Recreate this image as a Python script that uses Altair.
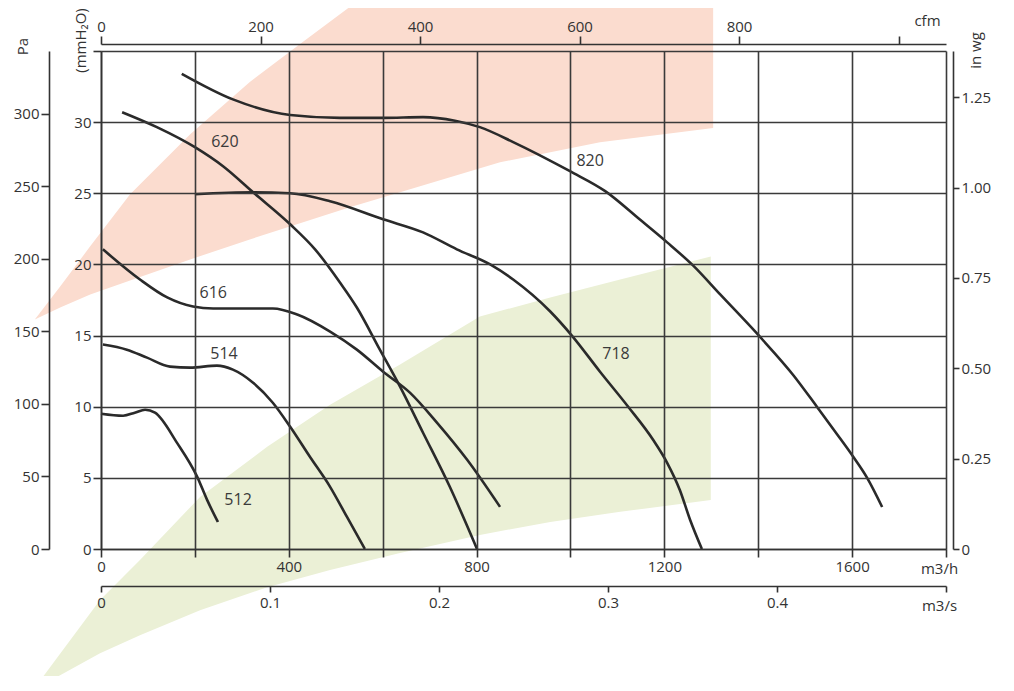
import altair as alt
import pandas as pd

FONT = "Open Sans"
INK = "#333333"

# ---- fan curves: flow in m3/h, pressure in mmH2O ----
q820 = [172, 281, 403, 509, 601, 686, 754, 807, 878, 999, 1074, 1148, 1206, 1261, 1319, 1404, 1474, 1525, 1564, 1602, 1632, 1664]
p820 = [33.4, 31.6, 30.5, 30.3, 30.3, 30.35, 30.1, 29.65, 28.6, 26.55, 25.15, 23.15, 21.55, 19.93, 17.89, 14.9, 12.25, 10.0, 8.24, 6.5, 5.0, 2.95]
q620 = [45, 119, 200, 260, 324, 403, 456, 509, 545, 594, 637, 686, 743, 801]
p620 = [30.7, 29.65, 28.24, 26.9, 25.07, 22.82, 21.06, 18.73, 16.97, 14.01, 11.41, 8.17, 4.37, 0.0]
q718 = [200, 324, 403, 488, 601, 686, 758, 829, 878, 957, 1003, 1063, 1123, 1176, 1206, 1233, 1255, 1280]
p718 = [24.93, 25.07, 25.0, 24.44, 23.17, 22.25, 21.06, 20.0, 18.94, 16.69, 15.0, 12.46, 10.0, 7.68, 6.06, 4.15, 2.04, 0.0]
q616 = [4, 83, 141, 196, 239, 366, 418, 488, 545, 601, 658, 716, 780, 850]
p616 = [21.06, 18.94, 17.68, 17.04, 16.9, 16.9, 16.48, 15.28, 14.01, 12.46, 10.99, 8.87, 6.27, 2.96]
q514 = [4, 55, 98, 147, 190, 247, 281, 324, 366, 403, 445, 488, 524, 562]
p514 = [14.37, 14.01, 13.45, 12.82, 12.75, 12.89, 12.61, 11.69, 10.28, 8.59, 6.48, 4.37, 2.25, 0.0]
q512 = [0, 47, 72, 94, 115, 162, 205, 226, 249]
p512 = [9.51, 9.37, 9.58, 9.79, 9.58, 7.46, 5.07, 3.45, 1.9]

# curve label positions
lab_text = ["620", "820", "616", "514", "718", "512"]
lab_q = [264, 1042, 239, 262, 1097, 292]
lab_p = [28.6, 27.25, 17.96, 13.73, 13.73, 3.45]

# ---- shaded operating zones (m3/h, mmH2O) ----
pink_q = [-141, -87, -23, 62, 190, 317, 424, 530, 637, 850, 1063, 1304]
pink_lo = [16.13, 16.97, 17.89, 18.87, 20.35, 21.76, 22.89, 24.01, 25.07, 27.18, 28.59, 29.58]
pink_hi = [16.13, 18.45, 21.27, 24.93, 29.15, 32.82, 35.49, 38.1, 40.63, 44.3, 44.3, 44.3]
green_q = [-145, -2, 83, 211, 354, 488, 637, 807, 957, 1106, 1299]
green_lo = [-9.93, -7.32, -6.06, -4.30, -2.68, -1.48, -0.28, 0.99, 1.90, 2.61, 3.45]
green_hi = [-9.93, -3.59, -0.77, 3.66, 7.18, 10.14, 12.96, 16.34, 17.68, 18.94, 20.56]

# ---- axis ticks ----
mh_ticks = list(range(0, 1801, 200))
mm_ticks = list(range(0, 36, 5))
pa_ticks = [0, 50, 100, 150, 200, 250, 300]
inwg_ticks = [0, 0.25, 0.5, 0.75, 1.0, 1.25]
cfm_ticks = [0, 200, 400, 600, 800, 1000]
m3s_ticks = [0, 0.1, 0.2, 0.3, 0.4, 0.5]

Q_MAX = 1800.0
P_MAX = 35.0

rows = []
for name, qs, ps in [("820", q820, p820), ("620", q620, p620), ("718", q718, p718),
                     ("616", q616, p616), ("514", q514, p514), ("512", q512, p512)]:
    for q, p in zip(qs, ps):
        rows.append({"fan": name, "q": q, "p": p})
curves = pd.DataFrame(rows)
labels = pd.DataFrame({"t": lab_text, "q": lab_q, "p": lab_p})
pink = pd.DataFrame({"q": pink_q, "lo": pink_lo, "hi": pink_hi})
green = pd.DataFrame({"q": green_q, "lo": green_lo, "hi": green_hi})


def xs():
    return alt.Scale(domain=[0, Q_MAX], nice=False, zero=False)


def ys():
    return alt.Scale(domain=[0, P_MAX], nice=False, zero=False)


common = dict(domainColor=INK, domainWidth=1.6, tickColor=INK, tickWidth=1.6,
              labelFont=FONT, labelFontSize=15, labelColor=INK, labelFlush=False,
              labelOverlap=False, titleFont=FONT, titleFontSize=15, titleColor=INK,
              titleFontWeight="normal", titleAlign="center", titleBaseline="middle",
              zindex=1)

x_axis = alt.Axis(orient="bottom", values=mh_ticks, tickSize=8, labelPadding=2,
                  labelExpr="datum.value % 400 == 0 && datum.value < 1800 ? '' + datum.value : ''",
                  grid=True, gridColor="#3a3a3a", gridWidth=1.6,
                  title="m3/h", titleX=838, titleY=19, titleAngle=0, **common)
y_axis = alt.Axis(orient="left", values=mm_ticks, tickSize=8, labelPadding=2,
                  labelExpr="datum.value < 35 ? '' + datum.value : ''",
                  grid=True, gridColor="#3a3a3a", gridWidth=1.6,
                  title="(mmH\u2082O)", titleX=-21, titleY=-11, titleAngle=270, **common)

pink_layer = alt.Chart(pink).mark_area(color="#fbdccf", opacity=1).encode(
    x=alt.X("q:Q", scale=xs(), axis=x_axis),
    y=alt.Y("lo:Q", scale=ys(), axis=y_axis),
    y2="hi:Q",
)
green_layer = alt.Chart(green).mark_area(color="#ebf0d6", opacity=1).encode(
    x=alt.X("q:Q", scale=xs(), axis=None),
    y=alt.Y("lo:Q", scale=ys(), axis=None),
    y2="hi:Q",
)
line_layer = alt.Chart(curves).mark_line(interpolate="monotone", strokeWidth=2.6,
                                         color="#2a2a2a").encode(
    x=alt.X("q:Q", scale=xs(), axis=None),
    y=alt.Y("p:Q", scale=ys(), axis=None),
    detail="fan:N",
)
label_layer = alt.Chart(labels).mark_text(font=FONT, fontSize=16, color="#3a3a3a").encode(
    x=alt.X("q:Q", scale=xs(), axis=None),
    y=alt.Y("p:Q", scale=ys(), axis=None),
    text="t:N",
)

pa_layer = alt.Chart(pd.DataFrame({"v": pa_ticks})).mark_point(opacity=0).encode(
    y=alt.Y("v:Q", scale=alt.Scale(domain=[0, P_MAX * 9.80665], nice=False),
            axis=alt.Axis(orient="left", offset=52, values=pa_ticks, tickSize=8,
                          labelPadding=2, grid=False, title="Pa", titleX=-27, titleY=-5,
                          titleAngle=270, **common)))
inwg_layer = alt.Chart(pd.DataFrame({"v": inwg_ticks})).mark_point(opacity=0).encode(
    y=alt.Y("v:Q", scale=alt.Scale(domain=[0, P_MAX / 25.4], nice=False),
            axis=alt.Axis(orient="right", offset=7, values=inwg_ticks, tickSize=6,
                          labelPadding=2, grid=False,
                          labelExpr="datum.value == 0 ? '0' : format(datum.value, '.2f')",
                          title="in wg", titleX=22, titleY=-1, titleAngle=270, **common)))
cfm_layer = alt.Chart(pd.DataFrame({"v": cfm_ticks})).mark_point(opacity=0).encode(
    x=alt.X("v:Q", scale=alt.Scale(domain=[0, Q_MAX / 1.699011], nice=False),
            axis=alt.Axis(orient="top", offset=7, values=cfm_ticks, tickSize=8,
                          labelPadding=2, grid=False,
                          labelExpr="datum.value < 1000 ? '' + datum.value : ''",
                          title="cfm", titleX=826, titleY=-24, titleAngle=0, **common)))
m3s_layer = alt.Chart(pd.DataFrame({"v": m3s_ticks})).mark_point(opacity=0).encode(
    x=alt.X("v:Q", scale=alt.Scale(domain=[0, Q_MAX / 3600], nice=False),
            axis=alt.Axis(orient="bottom", offset=37, values=m3s_ticks, tickSize=6,
                          labelPadding=3, grid=False,
                          labelExpr="datum.value == 0 ? '0' : (datum.value < 0.45 ? format(datum.value, '.1f') : '')",
                          title="m3/s", titleX=838, titleY=19, titleAngle=0, **common)))

chart = alt.layer(pink_layer, green_layer, line_layer, label_layer,
                  pa_layer, inwg_layer, cfm_layer, m3s_layer).resolve_scale(
    x="independent", y="independent"
).properties(
    width=845, height=498,
    autosize=alt.AutoSizeParams(type="none"),
    padding={"left": 93, "top": 43, "right": 58, "bottom": 127},
    background="white",
).configure_view(stroke=None)

chart.save("out.html", embed_options={"renderer": "svg", "actions": False})
